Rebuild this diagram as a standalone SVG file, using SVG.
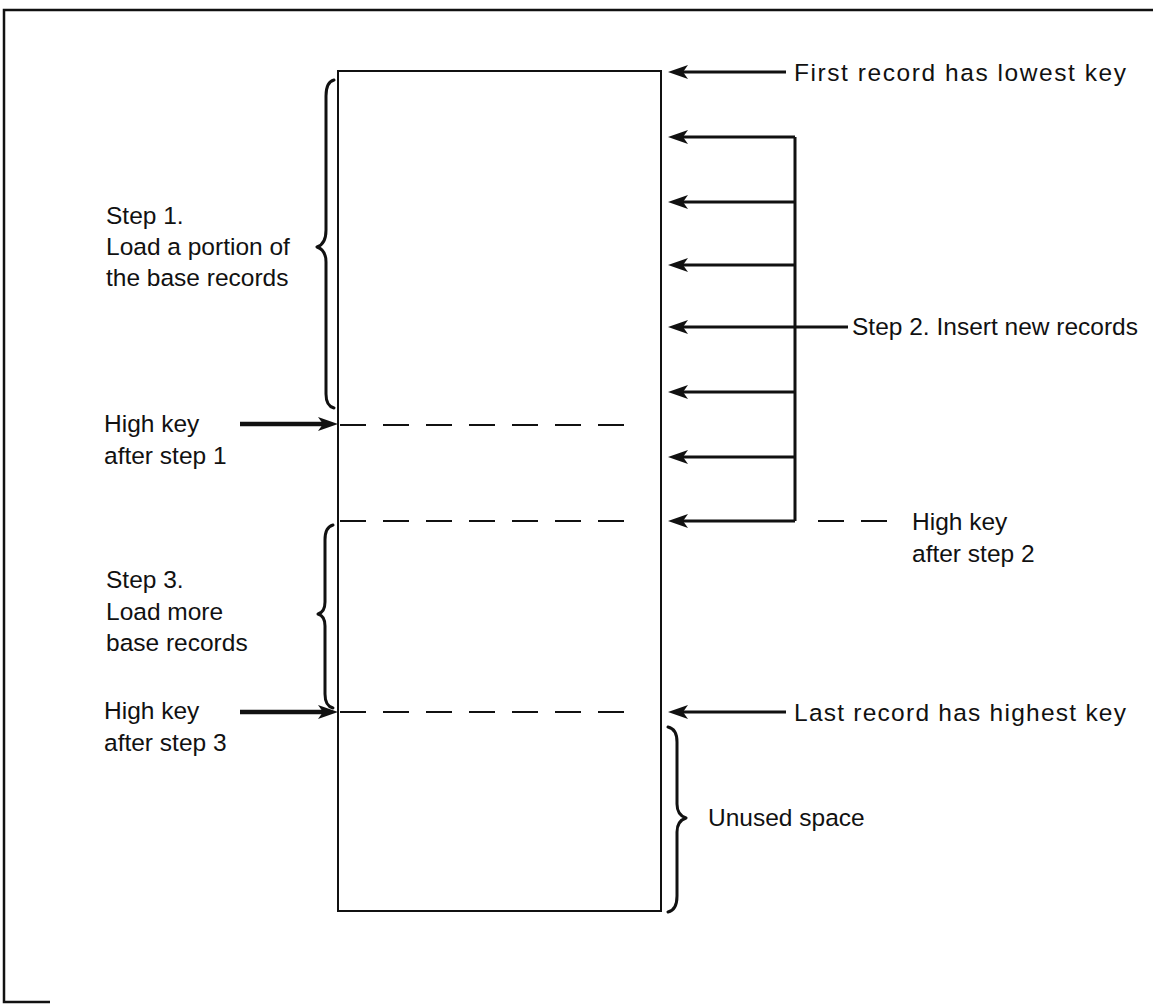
<svg xmlns="http://www.w3.org/2000/svg" width="1153" height="1005" viewBox="0 0 1153 1005">
<style>
  text { font-family: "Liberation Sans", Arial, sans-serif; font-size: 24.5px; fill: #111; }
  .frame { fill: none; stroke: #111; stroke-width: 2.5; }
  .box { fill: none; stroke: #111; stroke-width: 2; }
  .arr { fill: none; stroke: #111; stroke-width: 3; }
  .arrb { fill: none; stroke: #111; stroke-width: 4.5; }
  .dash { fill: none; stroke: #111; stroke-width: 2.2; stroke-dasharray: 26 17; }
  .brace { fill: none; stroke: #111; stroke-width: 3; stroke-linecap: round; stroke-linejoin: round; }
</style>
<defs>
  <marker id="ah" markerWidth="22" markerHeight="14" refX="10" refY="7" orient="auto" markerUnits="userSpaceOnUse">
    <path d="M0,7 L20,0 L15,7 L20,14 z" transform="translate(20,14) rotate(180)" fill="#111"/>
  </marker>
</defs>
<rect width="1153" height="1005" fill="#fff"/>
<g id="frame">
  <path class="frame" d="M1153,10 L4,10 L4,1002 L50,1002"/>
</g>
<g id="storage">
  <rect class="box" x="338" y="71" width="323" height="840"/>
</g>
<g id="connectors">
  <line class="dash" x1="340" y1="425" x2="640" y2="425"/>
  <line class="dash" x1="340" y1="521" x2="640" y2="521"/>
  <line class="dash" x1="340" y1="712" x2="640" y2="712"/>
  <line class="dash" x1="818" y1="521" x2="902" y2="521"/>
  <line class="arr" x1="786" y1="72" x2="678" y2="72" marker-end="url(#ah)"/>
  <polyline class="arr" points="795,137 795,521"/>
  <line class="arr" x1="795" y1="137" x2="678" y2="137" marker-end="url(#ah)"/>
  <line class="arr" x1="795" y1="202" x2="678" y2="202" marker-end="url(#ah)"/>
  <line class="arr" x1="795" y1="265" x2="678" y2="265" marker-end="url(#ah)"/>
  <line class="arr" x1="848" y1="327" x2="678" y2="327" marker-end="url(#ah)"/>
  <line class="arr" x1="795" y1="392" x2="678" y2="392" marker-end="url(#ah)"/>
  <line class="arr" x1="795" y1="457" x2="678" y2="457" marker-end="url(#ah)"/>
  <line class="arr" x1="795" y1="521" x2="678" y2="521" marker-end="url(#ah)"/>
  <line class="arr" x1="786" y1="712" x2="678" y2="712" marker-end="url(#ah)"/>
  <line class="arrb" x1="240" y1="424" x2="328" y2="424" marker-end="url(#ah)"/>
  <line class="arrb" x1="240" y1="712" x2="328" y2="712" marker-end="url(#ah)"/>
</g>
<g id="brace-step1">
  <path class="brace" d="M334,80 Q326,82 326,96 L326,230 Q326,244 317,247 Q326,250 326,262 L326,394 Q326,406 334,408"/>
  <text x="106" y="224">Step 1.</text>
  <text x="106" y="255">Load a portion of</text>
  <text x="106" y="286">the base records</text>
</g>
<g id="label-high1">
  <text x="104" y="432">High key</text>
  <text x="104" y="464">after step 1</text>
</g>
<g id="brace-step3">
  <path class="brace" d="M333,525 Q325,527 325,540 L325,602 Q325,612 318,614 Q325,616 325,626 L325,694 Q325,706 333,708"/>
  <text x="106" y="588">Step 3.</text>
  <text x="106" y="620">Load more</text>
  <text x="106" y="651">base records</text>
</g>
<g id="label-high3">
  <text x="104" y="719">High key</text>
  <text x="104" y="751">after step 3</text>
</g>
<g id="label-first">
  <text x="794" y="81" textLength="332" lengthAdjust="spacing">First record has lowest key</text>
</g>
<g id="label-step2">
  <text x="852" y="335">Step 2. Insert new records</text>
</g>
<g id="label-high2">
  <text x="912" y="530">High key</text>
  <text x="912" y="562">after step 2</text>
</g>
<g id="label-last">
  <text x="794" y="721" textLength="332" lengthAdjust="spacing">Last record has highest key</text>
</g>
<g id="brace-unused">
  <path class="brace" d="M668,727 Q677,729 677,742 L677,804 Q677,815 686,818 Q677,821 677,832 L677,896 Q677,910 668,912"/>
  <text x="708" y="826">Unused space</text>
</g>
</svg>
